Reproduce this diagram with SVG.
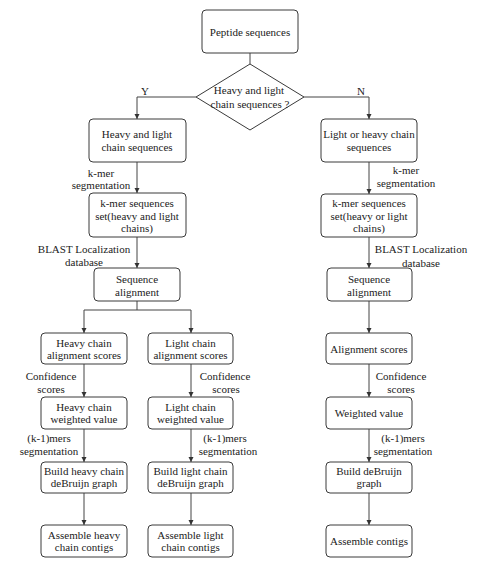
<svg xmlns="http://www.w3.org/2000/svg" width="502" height="568" viewBox="0 0 502 568">
<style>
.box{fill:#fff;stroke:#3a3a3a;stroke-width:1}
.t{font-family:"Liberation Serif","Times New Roman",serif;font-size:11px;fill:#222;text-anchor:middle}
.c{fill:none;stroke:#444;stroke-width:1}
</style>
<defs>
<marker id="ah" markerWidth="6" markerHeight="6" refX="5" refY="3" orient="auto" markerUnits="userSpaceOnUse">
<path d="M0,0.5 L5,3 L0,5.5 Z" fill="#333"/>
</marker>
</defs>
<rect width="502" height="568" fill="#fff"/>
<g id="connectors">
<path class="c" d="M250,53 V64"/>
<path class="c" d="M196,97 H137 V119" marker-end="url(#ah)"/>
<path class="c" d="M304,97 H369 V119" marker-end="url(#ah)"/>
<path class="c" d="M137,162 V193" marker-end="url(#ah)"/>
<path class="c" d="M137,237 V268" marker-end="url(#ah)"/>
<path class="c" d="M137,301 V310"/>
<path class="c" d="M84,310 H191"/>
<path class="c" d="M84,310 V333" marker-end="url(#ah)"/>
<path class="c" d="M191,310 V333" marker-end="url(#ah)"/>
<path class="c" d="M84,364 V397" marker-end="url(#ah)"/>
<path class="c" d="M84,429 V462" marker-end="url(#ah)"/>
<path class="c" d="M84,493 V525" marker-end="url(#ah)"/>
<path class="c" d="M191,364 V397" marker-end="url(#ah)"/>
<path class="c" d="M191,429 V462" marker-end="url(#ah)"/>
<path class="c" d="M191,493 V525" marker-end="url(#ah)"/>
<path class="c" d="M369,162 V194" marker-end="url(#ah)"/>
<path class="c" d="M369,237 V268" marker-end="url(#ah)"/>
<path class="c" d="M369,301 V333" marker-end="url(#ah)"/>
<path class="c" d="M369,364 V397" marker-end="url(#ah)"/>
<path class="c" d="M369,429 V462" marker-end="url(#ah)"/>
<path class="c" d="M369,493 V525" marker-end="url(#ah)"/>
<text class="t" x="145" y="95">Y</text>
<text class="t" x="361" y="95">N</text>
<text class="t" x="101" y="177">k-mer</text>
<text class="t" x="101" y="189">segmentation</text>
<text class="t" x="84" y="253">BLAST Localization</text>
<text class="t" x="84" y="266">database</text>
<text class="t" x="406" y="174">k-mer</text>
<text class="t" x="406" y="187">segmentation</text>
<text class="t" x="421" y="253">BLAST Localization</text>
<text class="t" x="421" y="267">database</text>
<text class="t" x="51" y="380">Confidence</text>
<text class="t" x="51" y="393">scores</text>
<text class="t" x="49" y="442">(k-1)mers</text>
<text class="t" x="49" y="455">segmentation</text>
<text class="t" x="225" y="380">Confidence</text>
<text class="t" x="226" y="393">scores</text>
<text class="t" x="225" y="442">(k-1)mers</text>
<text class="t" x="228" y="455">segmentation</text>
<text class="t" x="401" y="380">Confidence</text>
<text class="t" x="401" y="393">scores</text>
<text class="t" x="403" y="442">(k-1)mers</text>
<text class="t" x="403" y="455">segmentation</text>
</g>
<g id="peptide">
<rect class="box" x="202" y="10" width="96" height="43" rx="4"/>
<text class="t" x="250" y="36">Peptide sequences</text>
</g>
<g id="decision">
<polygon class="box" points="250,64 304,97 250,130 196,97"/>
<text class="t" x="249" y="94">Heavy and light</text>
<text class="t" x="250" y="108">chain sequences ?</text>
</g>
<g id="hl-seq">
<rect class="box" x="89" y="119" width="97" height="43" rx="4"/>
<text class="t" x="137" y="138">Heavy and light</text>
<text class="t" x="137" y="151">chain sequences</text>
</g>
<g id="hl-kmer">
<rect class="box" x="89" y="193" width="97" height="44" rx="4"/>
<text class="t" x="137" y="207">k-mer sequences</text>
<text class="t" x="137" y="220">set(heavy and light</text>
<text class="t" x="137" y="232">chains)</text>
</g>
<g id="hl-align">
<rect class="box" x="94" y="268" width="86" height="33" rx="4"/>
<text class="t" x="137" y="283">Sequence</text>
<text class="t" x="137" y="296">alignment</text>
</g>
<g id="h-scores">
<rect class="box" x="41" y="333" width="86" height="31" rx="4"/>
<text class="t" x="84" y="347">Heavy chain</text>
<text class="t" x="84" y="359">alignment scores</text>
</g>
<g id="l-scores">
<rect class="box" x="148" y="333" width="85" height="31" rx="4"/>
<text class="t" x="190.5" y="347">Light chain</text>
<text class="t" x="190.5" y="359">alignment scores</text>
</g>
<g id="h-weight">
<rect class="box" x="41" y="397" width="86" height="32" rx="4"/>
<text class="t" x="84" y="411">Heavy chain</text>
<text class="t" x="84" y="423">weighted value</text>
</g>
<g id="l-weight">
<rect class="box" x="148" y="397" width="85" height="32" rx="4"/>
<text class="t" x="190.5" y="411">Light chain</text>
<text class="t" x="190.5" y="423">weighted value</text>
</g>
<g id="h-build">
<rect class="box" x="41" y="462" width="86" height="31" rx="4"/>
<text class="t" x="84" y="475">Build heavy chain</text>
<text class="t" x="84" y="487">deBruijn graph</text>
</g>
<g id="l-build">
<rect class="box" x="148" y="462" width="85" height="31" rx="4"/>
<text class="t" x="190.5" y="475">Build light chain</text>
<text class="t" x="190.5" y="487">deBruijn graph</text>
</g>
<g id="h-assemble">
<rect class="box" x="41" y="525" width="86" height="32" rx="4"/>
<text class="t" x="84" y="539">Assemble heavy</text>
<text class="t" x="84" y="551">chain contigs</text>
</g>
<g id="l-assemble">
<rect class="box" x="148" y="525" width="85" height="32" rx="4"/>
<text class="t" x="190.5" y="539">Assemble light</text>
<text class="t" x="190.5" y="551">chain contigs</text>
</g>
<g id="lh-seq">
<rect class="box" x="321" y="119" width="96" height="43" rx="4"/>
<text class="t" x="369" y="138">Light or heavy chain</text>
<text class="t" x="369" y="151">sequences</text>
</g>
<g id="lh-kmer">
<rect class="box" x="321" y="194" width="96" height="43" rx="4"/>
<text class="t" x="369" y="207">k-mer sequences</text>
<text class="t" x="369" y="220">set(heavy or light</text>
<text class="t" x="369" y="232">chains)</text>
</g>
<g id="lh-align">
<rect class="box" x="327" y="268" width="85" height="33" rx="4"/>
<text class="t" x="369" y="283">Sequence</text>
<text class="t" x="369" y="296">alignment</text>
</g>
<g id="r-scores">
<rect class="box" x="326" y="333" width="86" height="31" rx="4"/>
<text class="t" x="369" y="353">Alignment scores</text>
</g>
<g id="r-weight">
<rect class="box" x="326" y="397" width="86" height="32" rx="4"/>
<text class="t" x="369" y="417">Weighted value</text>
</g>
<g id="r-build">
<rect class="box" x="326" y="462" width="86" height="31" rx="4"/>
<text class="t" x="369" y="475">Build deBruijn</text>
<text class="t" x="369" y="487">graph</text>
</g>
<g id="r-assemble">
<rect class="box" x="326" y="525" width="86" height="32" rx="4"/>
<text class="t" x="369" y="545">Assemble contigs</text>
</g>
</svg>
